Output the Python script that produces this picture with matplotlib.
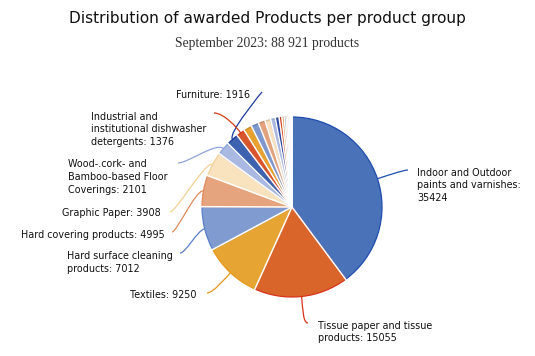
import numpy as np
import matplotlib
matplotlib.use("Agg")
import matplotlib.pyplot as plt
from matplotlib.path import Path
from matplotlib.patches import PathPatch
import matplotlib.colors as mcolors

# ---------------- data ----------------
labels = [
    "Indoor and Outdoor\npaints and varnishes:\n35424",
    "Tissue paper and tissue\nproducts: 15055",
    "Textiles: 9250",
    "Hard surface cleaning\nproducts: 7012",
    "Hard covering products: 4995",
    "Graphic Paper: 3908",
    "Wood-.cork- and\nBamboo-based Floor\nCoverings: 2101",
    "Furniture: 1916",
    "Industrial and\ninstitutional dishwasher\ndetergents: 1376",
]
labeled_values = [35424, 15055, 9250, 7012, 4995, 3908, 2101, 1916, 1376]
# remaining small, unlabeled product groups (estimated)
other_values = [1300, 1200, 1100, 900, 750, 600, 450, 350, 300, 250, 200, 150, 120, 80, 60, 50, 24]
values = labeled_values + other_values

title = "Distribution of awarded Products per product group"
subtitle = "September 2023: 88 921 products"

# ---------------- style ----------------
base_fill = ['#4A72B8', '#D9652B', '#E6A532', '#7F9BCF', '#E5A47E', '#F9E3BF',
             '#A9B9E2', '#3D62B0', '#D9552B', '#E8A12E', '#7D98CF', '#E3A27C',
             '#F7E1BE', '#A8B8E1', '#2848A8', '#D33A1F', '#E89A20', '#6F8DCB',
             '#E09A70', '#F4DDB5', '#9AAEE0', '#2447A6', '#D4401E', '#EAA02A',
             '#6E8ED0', '#E29C74']
base_edge = ['#1F4DAF', '#D8341C', '#E8961C', '#5A7FC8', '#E08A5A', '#F2CF96',
             '#8EA3DA', '#1B3C9E', '#D53A1A']

def darker(c, f=0.85):
    r, g, b = mcolors.to_rgb(c)
    return (r * f, g * f, b * f)

fills = base_fill[:len(values)]
edges = base_edge + [darker(c) for c in fills[len(base_edge):]]

W, H = 535, 356
fig = plt.figure(figsize=(W / 100, H / 100), dpi=100)
ax = fig.add_axes([0, 0, 1, 1])

def Y(v):
    return H - v

cx, cy, R = 292, Y(207), 90

wedges, _ = ax.pie(values, colors=fills, startangle=90, counterclock=False,
                   center=(cx, cy), radius=R,
                   wedgeprops=dict(linewidth=0.9))
for w, ec in zip(wedges, edges):
    w.set_edgecolor(ec)
    w.set_zorder(2)

# white separators between slices
for w in wedges:
    t = np.deg2rad(w.theta1)
    ax.plot([cx, cx + (R + 1) * np.cos(t)], [cy, cy + (R + 1) * np.sin(t)],
            color='white', lw=1.1, zorder=3, solid_capstyle='butt')

ax.set_xlim(0, W)
ax.set_ylim(0, H)
ax.set_aspect('equal')
ax.axis('off')

fs = 6.95
font = 'DejaVu Sans'
# label text positions (x, y_top_down, ha)
text_pos = [
    (417, 185.5, 'left'),
    (318, 332, 'left'),
    (130, 295, 'left'),
    (67, 262.5, 'left'),
    (21, 235, 'left'),
    (62, 213, 'left'),
    (68, 177, 'left'),
    (250, 95, 'right'),
    (91, 129.5, 'left'),
]
# leader line end near label, radial push, horizontal handle
leader = [
    ((408, 170), 5, -5),
    ((308, 323), 14, -5),
    ((207, 293), 8, 6),
    ((180, 253), 8, 6),
    ((172, 232), 8, 5),
    ((170, 212), 8, 6),
    ((178, 163), 10, 10),
    ((262, 92), 8, 0),
    ((214, 113), 6, 10),
]

for i, (lab, (tx, ty, ha)) in enumerate(zip(labels, text_pos)):
    ax.text(tx, Y(ty), lab, ha=ha, va='center', fontsize=fs, family=font,
            color='#111111', linespacing=1.32, zorder=5)
    w = wedges[i]
    tm = np.deg2rad((w.theta1 + w.theta2) / 2)
    d = np.array([np.cos(tm), np.sin(tm)])
    rim = np.array([cx, cy]) + R * d
    (ex, ey), k, h = leader[i]
    end = np.array([ex, Y(ey)])
    p1 = rim + k * d
    p2 = end + np.array([h, 0])
    path = Path([rim, p1, p2, end], [Path.MOVETO, Path.CURVE4, Path.CURVE4, Path.CURVE4])
    ax.add_patch(PathPatch(path, fill=False, edgecolor=edges[i], lw=0.9, zorder=1))

fig.text(0.5, 1 - 18 / H, title, ha='center', va='center', fontsize=11.1,
         family=font, color='#111111')
fig.text(0.5, 1 - 43 / H, subtitle, ha='center', va='center', fontsize=9.8,
         family='Liberation Serif', color='#333333')

fig.savefig('out.png', dpi=100)
